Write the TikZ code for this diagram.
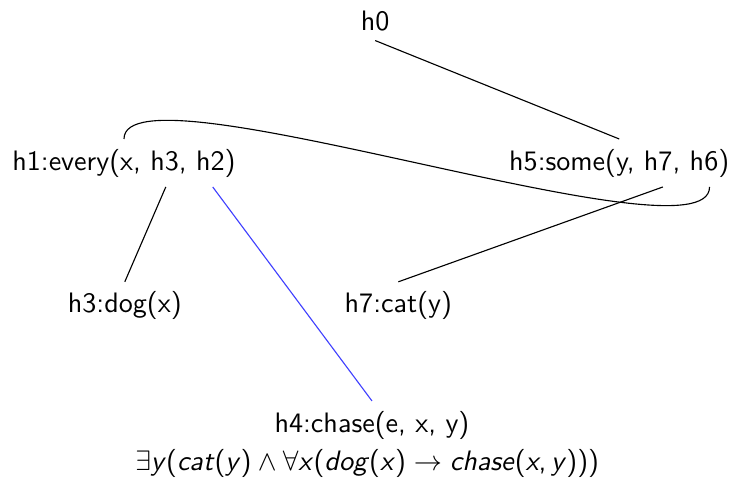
\documentclass[tikz,border=0pt]{standalone}
\usepackage{amsmath}
\usepackage{tikz}
\usetikzlibrary{positioning}
\renewcommand{\familydefault}{\sfdefault}

\begin{document}
\begin{tikzpicture}[auto,
  lbl/.style={anchor=base},
  dom/.style={draw=blue!75}]
  \useasboundingbox (0,0) rectangle (9.1875,-6.0625);
  \node[lbl] (h0) at (4.69,-0.375) {h0};
  \node[lbl] (h1) at (1.55,-2.125) {h1:every(x, h3, h2)};
  \node[lbl] (h5) at (7.74,-2.125) {h5:some(y, h7, h6)};
  \node[lbl] (h3) at (1.56,-3.91) {h3:dog(x)};
  \node[lbl] (h7) at (4.98,-3.91) {h7:cat(y)};
  \node[lbl] (h4) at (4.65,-5.4) {h4:chase(e, x, y)};
  \node[lbl] (fol) at (4.59,-5.875)
    {$\exists$\textsl{y}(\textsl{cat}(\textsl{y})${}\wedge{}\forall$\textsl{x}(\textsl{dog}(\textsl{x})${}\rightarrow{}$\textsl{chase}(\textsl{x},\,\textsl{y})))};
  % holes inside the arguments
  \coordinate (h1-h3) at ([xshift=5.81em]h1.south west);
  \coordinate (h1-h2) at ([xshift=7.48em]h1.south west);
  \coordinate (h5-h7) at ([xshift=5.82em]h5.south west);
  \coordinate (h5-h6) at ([xshift=7.48em]h5.south west);
  \path (h0.south) edge (h5.north);
  \path (h1-h3) edge (h3.north);
  \path (h1-h2) edge[dom] (h4.north);
  \path (h5-h7) edge (h7.north);
  \draw (h1.north) .. controls +(0,1) and +(0,-1) .. (h5-h6);
\end{tikzpicture}
\end{document}
